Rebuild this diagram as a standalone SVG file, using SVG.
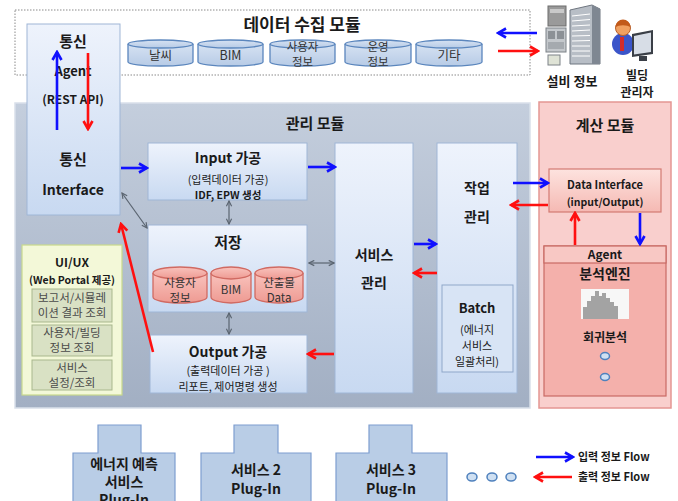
<svg xmlns="http://www.w3.org/2000/svg" width="678" height="501" viewBox="0 0 678 501">
  <defs>
    <linearGradient id="gBlue" x1="0" y1="0" x2="0" y2="1">
      <stop offset="0" stop-color="#eef3fc"/>
      <stop offset="1" stop-color="#c8d9f1"/>
    </linearGradient>
    <linearGradient id="gMgmt" x1="0" y1="0" x2="0" y2="1">
      <stop offset="0" stop-color="#c4cedd"/>
      <stop offset="1" stop-color="#a2afc3"/>
    </linearGradient>
    <linearGradient id="gPinkBox" x1="0" y1="0" x2="0" y2="1">
      <stop offset="0" stop-color="#fde3df"/>
      <stop offset="1" stop-color="#f5b9b3"/>
    </linearGradient>
    <linearGradient id="gCyl" x1="0" y1="0" x2="0" y2="1">
      <stop offset="0" stop-color="#d6e2f2"/>
      <stop offset="1" stop-color="#b7cbe6"/>
    </linearGradient>
    <linearGradient id="gCylPink" x1="0" y1="0" x2="0" y2="1">
      <stop offset="0" stop-color="#f9c3bd"/>
      <stop offset="1" stop-color="#ee9a92"/>
    </linearGradient>
    <marker id="ahBlue" viewBox="0 0 12 12" refX="10" refY="6" markerWidth="12" markerHeight="12" markerUnits="userSpaceOnUse" orient="auto">
      <path d="M2,1.5 L10,6 L2,10.5" fill="none" stroke="#1010ff" stroke-width="2.6"/>
    </marker>
    <marker id="ahRed" viewBox="0 0 12 12" refX="10" refY="6" markerWidth="12" markerHeight="12" markerUnits="userSpaceOnUse" orient="auto">
      <path d="M2,1.5 L10,6 L2,10.5" fill="none" stroke="#ff1010" stroke-width="2.6"/>
    </marker>
    <marker id="ahGray" viewBox="0 0 8 8" refX="7" refY="4" markerWidth="7" markerHeight="7" markerUnits="userSpaceOnUse" orient="auto-start-reverse">
      <path d="M1,1 L7,4 L1,7" fill="none" stroke="#5a6470" stroke-width="1.3"/>
    </marker>
  </defs>
  <style>
    text { font-family: "Noto Sans CJK KR", "Liberation Sans", sans-serif; fill: #1a1a1a; text-anchor: middle; }
    .b { font-weight: bold; }
    .t17 { font-size: 17px; }
    .t15 { font-size: 15px; }
    .t14 { font-size: 14px; }
    .t13 { font-size: 13px; }
    .t12 { font-size: 12px; }
    .t11 { font-size: 11px; }
    .t10 { font-size: 10.5px; }
    .box { fill: url(#gBlue); stroke: #9fb6d6; stroke-width: 1; }
    .cyl { fill: url(#gCyl); stroke: #5b86bd; stroke-width: 1.3; }
    .cylp { fill: url(#gCylPink); stroke: #d06a62; stroke-width: 1.3; }
    .cyltxt { fill: #333; font-size: 12.5px; }
    .cyltxt2 { fill: #333; font-size: 11.5px; }
    .ui { fill: #d9e1c4; stroke: #a9b78d; stroke-width: 1; }
    .uitxt { fill: #4a4a4a; font-size: 11.5px; }
    .plug { fill: #b9cde6; stroke: #7e9ed0; stroke-width: 1.2; }
    .blue { stroke: #1010ff; stroke-width: 2.6; fill: none; marker-end: url(#ahBlue); }
    .red { stroke: #ff1010; stroke-width: 2.6; fill: none; marker-end: url(#ahRed); }
    .gray { stroke: #5a6470; stroke-width: 1.2; fill: none; marker-start: url(#ahGray); marker-end: url(#ahGray); }
    .dot { fill: #cfe0f2; stroke: #4f81bd; stroke-width: 1.5; }
  </style>

  <!-- data collection module -->
  <g id="data-collection">
    <rect x="15" y="10" width="515" height="65" fill="#ffffff" stroke="#8a8a8a" stroke-width="1" stroke-dasharray="1.5,1.5"/>
    <text class="b t17" x="302" y="31">데이터 수집 모듈</text>
  </g>

  <g id="cyl-weather">
    <path class="cyl" d="M128,44 v18 a32.5,4 0 0 0 65,0 v-18"/>
    <ellipse class="cyl" cx="160.5" cy="44" rx="32.5" ry="4"/>
    <text class="cyltxt" x="160.5" y="60">날씨</text>
  </g>
  <g id="cyl-bim">
    <path class="cyl" d="M198,44 v18 a32.5,4 0 0 0 65,0 v-18"/>
    <ellipse class="cyl" cx="230.5" cy="44" rx="32.5" ry="4"/>
    <text class="cyltxt" x="230.5" y="60">BIM</text>
  </g>
  <g id="cyl-user">
    <path class="cyl" d="M270,44 v18 a32.5,4 0 0 0 65,0 v-18"/>
    <ellipse class="cyl" cx="302.5" cy="44" rx="32.5" ry="4"/>
    <text class="cyltxt2" x="302.5" y="51">사용자</text>
    <text class="cyltxt2" x="302.5" y="66">정보</text>
  </g>
  <g id="cyl-ops">
    <path class="cyl" d="M345,44 v18 a33,4 0 0 0 66,0 v-18"/>
    <ellipse class="cyl" cx="378" cy="44" rx="33" ry="4"/>
    <text class="cyltxt2" x="378" y="51">운영</text>
    <text class="cyltxt2" x="378" y="66">정보</text>
  </g>
  <g id="cyl-etc">
    <path class="cyl" d="M416,44 v18 a33,4 0 0 0 66,0 v-18"/>
    <ellipse class="cyl" cx="449" cy="44" rx="33" ry="4"/>
    <text class="cyltxt" x="449" y="60">기타</text>
  </g>

  <!-- facility / building icon -->
  <g id="facility">
    <rect x="548" y="6" width="18" height="20" fill="#9a9a9a" stroke="#6d6d6d"/>
    <rect x="550" y="9" width="14" height="4" fill="#c9c9c9"/>
    <rect x="546" y="28" width="20" height="24" fill="#c4c8cc" stroke="#7d8287"/>
    <rect x="548" y="31" width="7" height="8" fill="#8c9196"/>
    <rect x="557" y="31" width="7" height="8" fill="#8c9196"/>
    <rect x="548" y="42" width="16" height="7" fill="#a5aaaf"/>
    <rect x="548" y="55" width="12" height="10" fill="#dfe3d6" stroke="#7d8287"/>
    <polygon points="570,10 592,5 600,9 600,64 570,64" fill="#b8bec6" stroke="#6f7680"/>
    <polygon points="592,5 600,9 600,64 592,64" fill="#7f8792"/>
    <g stroke="#ffffff" stroke-width="1">
      <line x1="572" y1="16" x2="590" y2="14"/>
      <line x1="572" y1="21" x2="590" y2="19.5"/>
      <line x1="572" y1="26" x2="590" y2="25"/>
      <line x1="572" y1="31" x2="590" y2="30"/>
      <line x1="572" y1="36" x2="590" y2="35.5"/>
      <line x1="572" y1="41" x2="590" y2="40.5"/>
      <line x1="572" y1="46" x2="590" y2="46"/>
      <line x1="572" y1="51" x2="590" y2="51"/>
      <line x1="572" y1="56" x2="590" y2="56"/>
    </g>
    <text class="b t13" x="572" y="86">설비 정보</text>
  </g>

  <!-- building manager icon -->
  <g id="manager">
    <ellipse cx="623" cy="44" rx="11" ry="11" fill="#3b55c9"/>
    <rect x="620" y="37" width="4" height="14" fill="#d22c2c"/>
    <circle cx="623" cy="28" r="7.5" fill="#f0a060" stroke="#b8602a"/>
    <path d="M615.5,27 a7.5,7.5 0 0 1 15,0 a9,4 0 0 0 -15,0z" fill="#c25a1a"/>
    <polygon points="632,34 653,30 653,54 632,57" fill="#3a3f47"/>
    <polygon points="634,36 651,32.5 651,52 634,54.5" fill="#d7dde6"/>
    <rect x="639" y="56" width="8" height="5" fill="#3a3f47"/>
    <text class="b t12" x="637" y="80">빌딩</text>
    <text class="b t12" x="637" y="97">관리자</text>
  </g>

  <!-- management module -->
  <g id="management">
    <rect x="15" y="103" width="515" height="305" fill="url(#gMgmt)" stroke="#d9e0ea" stroke-width="1.5"/>
    <text class="b t15" x="315" y="129">관리 모듈</text>
  </g>

  <!-- computation module -->
  <g id="computation">
    <rect x="539" y="102" width="132" height="306" fill="#f9cfcd" stroke="#e49693" stroke-width="1.5"/>
    <text class="b t15" x="605" y="131">계산 모듈</text>
  </g>

  <g id="comm">
    <rect class="box" x="27" y="24" width="93" height="191"/>
    <text class="b t15" x="73" y="47">통신</text>
    <text class="b t13" x="73" y="76">Agent</text>
    <text class="b t12" x="73" y="104">(REST API)</text>
    <text class="b t15" x="73" y="165">통신</text>
    <text class="b t14" x="73" y="195">Interface</text>
  </g>

  <g id="input-proc">
    <rect class="box" x="148" y="143" width="159" height="57"/>
    <text class="b t14" x="228" y="163">Input 가공</text>
    <text class="t11" x="228" y="184">(입력데이터 가공)</text>
    <text class="b t10" x="228" y="199">IDF, EPW 생성</text>
  </g>

  <g id="storage">
    <rect class="box" x="148" y="225" width="159" height="87"/>
    <text class="b t15" x="228" y="248">저장</text>
    <path class="cylp" d="M153,273 v24 a27,6 0 0 0 54,0 v-24"/>
    <ellipse class="cylp" cx="180" cy="273" rx="27" ry="6"/>
    <text class="cyltxt2" x="180" y="287">사용자</text>
    <text class="cyltxt2" x="180" y="302">정보</text>
    <path class="cylp" d="M211,273 v24 a20,6 0 0 0 40,0 v-24"/>
    <ellipse class="cylp" cx="231" cy="273" rx="20" ry="6"/>
    <text class="cyltxt2" x="231" y="294">BIM</text>
    <path class="cylp" d="M255,273 v24 a24,6 0 0 0 48,0 v-24"/>
    <ellipse class="cylp" cx="279" cy="273" rx="24" ry="6"/>
    <text class="cyltxt2" x="279" y="287">산출물</text>
    <text class="cyltxt2" x="279" y="302">Data</text>
  </g>

  <g id="output-proc">
    <rect class="box" x="150" y="335" width="157" height="58"/>
    <text class="b t14" x="228" y="357">Output 가공</text>
    <text class="t11" x="228" y="375">(출력데이터 가공 )</text>
    <text class="t11" x="228" y="391">리포트, 제어명령 생성</text>
  </g>

  <g id="service-mgmt">
    <rect class="box" x="335" y="143" width="78" height="250"/>
    <text class="b t14" x="374" y="260">서비스</text>
    <text class="b t14" x="374" y="288">관리</text>
  </g>

  <g id="job-mgmt">
    <rect class="box" x="437" y="143" width="80" height="250"/>
    <text class="b t14" x="477" y="193">작업</text>
    <text class="b t14" x="477" y="222">관리</text>
  </g>

  <g id="batch">
    <rect x="442" y="285" width="71" height="87" fill="#d8e4f5" stroke="#8fa7c9" stroke-width="1"/>
    <text class="b t13" x="477" y="313">Batch</text>
    <text class="t11" x="477" y="334">(에너지</text>
    <text class="t11" x="477" y="350">서비스</text>
    <text class="t11" x="477" y="366">일괄처리)</text>
  </g>

  <g id="uiux">
    <rect x="22" y="245" width="100" height="150" fill="#f3f8d8" stroke="#c8d98d" stroke-width="1.2"/>
    <text class="b t12" x="72" y="267">UI/UX</text>
    <text class="b t10" x="72" y="284">(Web Portal 제공)</text>
    <rect class="ui" x="32" y="289" width="80" height="33"/>
    <text class="uitxt" x="72" y="302">보고서/시뮬레</text>
    <text class="uitxt" x="72" y="317">이션 결과 조회</text>
    <rect class="ui" x="32" y="325" width="80" height="31"/>
    <text class="uitxt" x="72" y="337">사용자/빌딩</text>
    <text class="uitxt" x="72" y="352">정보 조회</text>
    <rect class="ui" x="32" y="360" width="80" height="30"/>
    <text class="uitxt" x="72" y="372">서비스</text>
    <text class="uitxt" x="72" y="387">설정/조회</text>
  </g>

  <g id="data-interface">
    <rect x="549" y="169" width="112" height="43" fill="url(#gPinkBox)" stroke="#d27a72" stroke-width="1.2"/>
    <text class="b t11" x="605" y="189">Data Interface</text>
    <text class="b t10" x="605" y="206">(input/Output)</text>
  </g>

  <g id="analysis-engine">
    <rect x="544" y="246" width="122" height="150" fill="#f4b0ab" stroke="#c96a64" stroke-width="1.2"/>
    <rect x="544" y="246" width="122" height="17" fill="#f8c8c4" stroke="#c96a64" stroke-width="1.2"/>
    <text class="b t12" x="605" y="259">Agent</text>
    <text class="b t14" x="605" y="279">분석엔진</text>
    <rect x="581" y="289" width="48" height="30" fill="#f7f7f7"/>
    <path d="M583,319 V307 h4 V301 h4 V296 h4 V291 h4 V296 h3 V293 h4 V298 h4 V302 h4 V306 h4 V319 z" fill="#a3a3a3"/>
    <text class="b t12" x="605" y="342">회귀분석</text>
    <ellipse class="dot" cx="605" cy="356" rx="4.5" ry="3.5"/>
    <ellipse class="dot" cx="605" cy="377" rx="4.5" ry="3.5"/>
  </g>

  <!-- plug-in services (the row runs off the bottom edge) -->
  <g id="plugin-1">
    <path class="plug" d="M73,501 V453 H98 V425 H141 V453 H175 V501"/>
    <text class="b t14" x="124" y="469">에너지 예측</text>
    <text class="b t14" x="124" y="487">서비스</text>
    <text class="b t14" x="124" y="505">Plug-In</text>
  </g>
  <g id="plugin-2">
    <path class="plug" d="M201,501 V453 H234 V425 H278 V453 H311 V501"/>
    <text class="b t14" x="256" y="475">서비스 2</text>
    <text class="b t14" x="256" y="494">Plug-In</text>
  </g>
  <g id="plugin-3">
    <path class="plug" d="M336,501 V453 H369 V425 H412 V453 H447 V501"/>
    <text class="b t14" x="391" y="475">서비스 3</text>
    <text class="b t14" x="391" y="494">Plug-In</text>
  </g>
  <g id="more">
    <ellipse class="dot" cx="472" cy="477" rx="5" ry="4"/>
    <ellipse class="dot" cx="492" cy="477" rx="5" ry="4"/>
    <ellipse class="dot" cx="511" cy="477" rx="5" ry="4"/>
  </g>

  <g id="legend">
    <line class="blue" x1="536" y1="457" x2="573" y2="457"/>
    <text class="b t11" x="578" y="461" style="text-anchor:start">입력 정보 Flow</text>
    <line class="red" x1="572" y1="477" x2="535" y2="477"/>
    <text class="b t11" x="578" y="481" style="text-anchor:start">출력 정보 Flow</text>
  </g>

  <!-- connectors -->
  <g id="connectors">
    <line class="blue" x1="537" y1="33" x2="498" y2="33"/>
    <line class="red" x1="498" y1="51" x2="538" y2="51"/>
    <line class="blue" x1="57" y1="130" x2="57" y2="52"/>
    <line class="red" x1="88" y1="53" x2="88" y2="129"/>
    <line class="blue" x1="121" y1="168" x2="147" y2="168"/>
    <line class="blue" x1="308" y1="167" x2="335" y2="167"/>
    <line class="blue" x1="414" y1="244" x2="436" y2="244"/>
    <line class="red" x1="437" y1="273" x2="414" y2="273"/>
    <line class="red" x1="334" y1="354" x2="308" y2="354"/>
    <line class="blue" x1="513" y1="183" x2="548" y2="183"/>
    <line class="red" x1="548" y1="205" x2="511" y2="205"/>
    <line class="red" x1="575" y1="245" x2="575" y2="213"/>
    <line class="blue" x1="640" y1="213" x2="640" y2="244"/>
    <line class="red" x1="153" y1="352" x2="121" y2="224"/>
    <line class="gray" x1="122" y1="193" x2="147" y2="228"/>
    <line class="gray" x1="229" y1="201" x2="229" y2="224"/>
    <line class="gray" x1="229" y1="313" x2="229" y2="334"/>
    <line class="gray" x1="309" y1="263" x2="334" y2="263"/>
  </g>
</svg>
